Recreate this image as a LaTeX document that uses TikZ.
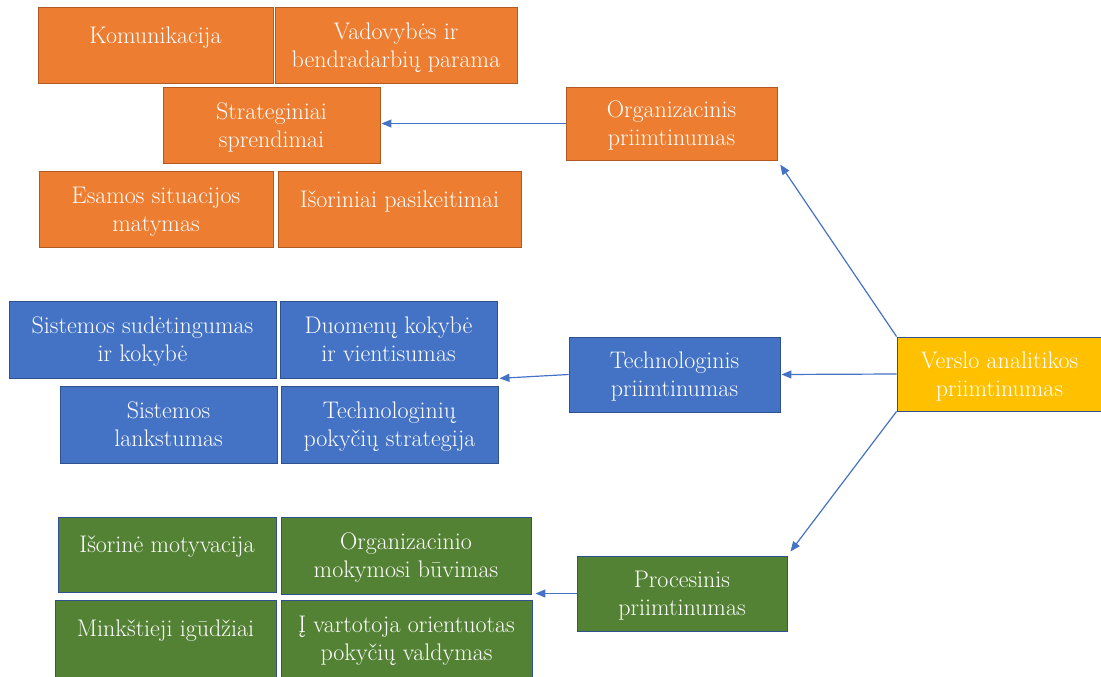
\documentclass[tikz,border=0pt]{standalone}
\usetikzlibrary{arrows.meta}
\definecolor{orfill}{HTML}{ED7D31}
\definecolor{ordraw}{HTML}{AE5A21}
\definecolor{blfill}{HTML}{4472C4}
\definecolor{bldraw}{HTML}{2F528F}
\definecolor{grfill}{HTML}{548235}
\definecolor{yefill}{HTML}{FFC000}
\definecolor{arrowc}{HTML}{4472C4}
\newcommand{\oneline}[1]{\raisebox{10pt}[\height][\depth]{#1}}
\tikzset{
  box/.style={rectangle, line width=0.9pt, text=white, align=center, inner sep=0pt,
    text depth=0pt, font=\fontsize{24}{28}\selectfont},
  obox/.style={box, fill=orfill, draw=ordraw},
  bbox/.style={box, fill=blfill, draw=bldraw},
  gbox/.style={box, fill=grfill, draw=bldraw},
  ybox/.style={box, fill=yefill, draw=bldraw},
  conn/.style={draw=arrowc, line width=1.2pt, -{Triangle[length=10pt,width=8pt]}}
}
\begin{document}
\begin{tikzpicture}[x=1pt,y=-1pt]
\useasboundingbox (0,0) rectangle (1101,677);
% orange group
\node[obox, minimum width=235pt, minimum height=76pt] (kom) at (155.5,45) {\oneline{Komunikacija}};
\node[obox, minimum width=242pt, minimum height=76pt] (vad) at (396,45) {Vadovybės ir\\bendradarbių parama};
\node[obox, minimum width=217pt, minimum height=76pt] (str) at (271.5,125) {Strateginiai\\sprendimai};
\node[obox, minimum width=234pt, minimum height=76pt] (esa) at (156,209) {Esamos situacijos\\matymas};
\node[obox, minimum width=243pt, minimum height=76pt] (iso) at (399.5,209) {\oneline{Išoriniai pasikeitimai}};
\node[obox, minimum width=211pt, minimum height=73pt] (org) at (671.5,123.5) {Organizacinis\\priimtinumas};
% blue group
\node[bbox, minimum width=267pt, minimum height=77pt] (sis) at (142.5,339.5) {Sistemos sudėtingumas\\ir kokybė};
\node[bbox, minimum width=217pt, minimum height=77pt] (duo) at (388.5,339.5) {Duomenų kokybė\\ir vientisumas};
\node[bbox, minimum width=217pt, minimum height=77pt] (lan) at (168.5,424.5) {Sistemos\\lankstumas};
\node[bbox, minimum width=217pt, minimum height=77pt] (tpk) at (389.5,424.5) {Technologinių\\pokyčių strategija};
\node[bbox, minimum width=211pt, minimum height=75pt] (tec) at (674.5,374.5) {Technologinis\\priimtinumas};
% yellow
\node[ybox, minimum width=205pt, minimum height=74pt] (ver) at (999.5,374) {Verslo analitikos\\priimtinumas};
% green group
\node[gbox, minimum width=218pt, minimum height=75pt] (imo) at (167,554.5) {\oneline{Išorinė motyvacija}};
\node[gbox, minimum width=250pt, minimum height=77pt] (omb) at (406,555.5) {Organizacinio\\mokymosi būvimas};
\node[gbox, minimum width=221pt, minimum height=77pt] (min) at (165.5,638.5) {\oneline{Minkštieji igūdžiai}};
\node[gbox, minimum width=251pt, minimum height=77pt] (vart) at (406.5,638.5) {Į vartotoja orientuotas\\pokyčių valdymas};
\node[gbox, minimum width=210pt, minimum height=75pt] (pro) at (682,593.5) {Procesinis\\priimtinumas};
% connectors
\draw[conn, shorten >=1pt] (org.west) -- (org.west -| str.east);
\draw[conn, shorten >=2pt] (tec.west) -- (duo.south east);
\draw[conn, shorten >=4pt] (pro.west) -- (pro.west -| omb.east);
\draw[conn, shorten >=5pt] (ver.north west) -- (org.south east);
\draw[conn, shorten >=1pt] (ver.west) -- (tec.east);
\draw[conn, shorten >=5pt] (ver.south west) -- (pro.north east);
\end{tikzpicture}
\end{document}
